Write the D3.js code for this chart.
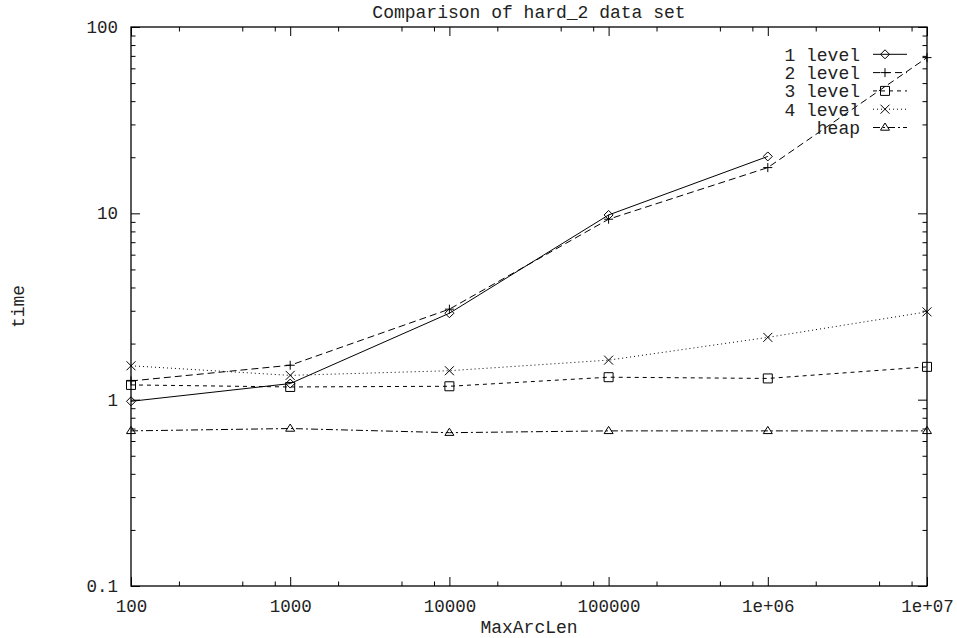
<!DOCTYPE html>
<html>
<head>
<meta charset="utf-8">
<script src="https://cdn.jsdelivr.net/npm/d3@7.9.0/dist/d3.min.js"></script>
<style>
  body { margin: 0; background: #fff; }
  svg text { font-family: "Liberation Mono", "DejaVu Sans Mono", monospace; fill: #222; }
</style>
</head>
<body>
<div id="chart"></div>
<script>
// values
const maxArcLen = [100, 1000, 10000, 100000, 1e6, 1e7];
const level1 = [0.98, 1.22, 2.91, 9.8, 20.2, null];
const level2 = [1.26, 1.53, 3.06, 9.3, 17.6, 68.5];
const level3 = [1.2, 1.17, 1.18, 1.32, 1.30, 1.50];
const level4 = [1.52, 1.35, 1.43, 1.63, 2.16, 2.96];
const heap = [0.68, 0.70, 0.665, 0.68, 0.68, 0.68];

const seriesNames = ["1 level", "2 level", "3 level", "4 level", "heap"];
const xTickLabels = ["100", "1000", "10000", "100000", "1e+06", "1e+07"];
const yTickValues = [0.1, 1, 10, 100];
const yTickLabels = ["0.1", "1", "10", "100"];

const width = 957;
const height = 638;
const margin = {top: 27, right: 30, bottom: 52, left: 131};

const series = [
    {name: seriesNames[0], values: level1, dash: null, marker: "diamond"},
    {name: seriesNames[1], values: level2, dash: "7,4", marker: "plus"},
    {name: seriesNames[2], values: level3, dash: "4,4", marker: "square"},
    {name: seriesNames[3], values: level4, dash: "1,3", marker: "cross"},
    {name: seriesNames[4], values: heap, dash: "7,3,2,3", marker: "triangle"}
];

const x = d3.scaleLog()
    .domain([100, 1e7])
    .range([margin.left, width - margin.right]);

const y = d3.scaleLog()
    .domain([0.1, 100])
    .range([height - margin.bottom, margin.top]);

const svg = d3.select("#chart").append("svg")
    .attr("width", width)
    .attr("height", height);

// minor ticks: x axis at 2,5,8 per decade, y axis at 2..9
const xMinor = [];
for (let d = 100; d < 1e7; d *= 10) [2, 5, 8].forEach(m => xMinor.push(d * m));
const yMinor = [];
for (let d = 0.1; d < 99; d *= 10) [2, 3, 4, 5, 6, 7, 8, 9].forEach(m => yMinor.push(d * m));

const major = 9, minor = 4.5;

function tickAxis(axisFn, scale, values, size, transform, labels, pad) {
    const g = svg.append("g")
        .attr("transform", transform)
        .call(axisFn(scale)
            .tickValues(values)
            .tickSize(-size)
            .tickPadding(pad || 0)
            .tickFormat(labels ? ((d, i) => labels[i]) : () => ""));
    g.select(".domain").remove();
    g.selectAll(".tick line").attr("stroke", "#000").attr("stroke-width", 1);
    return g;
}

const bottom = height - margin.bottom;
const right = width - margin.right;

// bottom & top
tickAxis(d3.axisBottom, x, maxArcLen, major, `translate(0,${bottom})`, xTickLabels, 14)
    .selectAll("text").style("font-size", "17.5px").attr("fill", "#222");
tickAxis(d3.axisBottom, x, xMinor, minor, `translate(0,${bottom})`);
tickAxis(d3.axisTop, x, maxArcLen, major, `translate(0,${margin.top})`);
tickAxis(d3.axisTop, x, xMinor, minor, `translate(0,${margin.top})`);

// left & right
tickAxis(d3.axisLeft, y, yTickValues, major, `translate(${margin.left},0)`, yTickLabels, 13)
    .selectAll("text").style("font-size", "17.5px").attr("fill", "#222");
tickAxis(d3.axisLeft, y, yMinor, minor, `translate(${margin.left},0)`);
tickAxis(d3.axisRight, y, yTickValues, major, `translate(${right},0)`);
tickAxis(d3.axisRight, y, yMinor, minor, `translate(${right},0)`);

svg.selectAll(".tick text").attr("fill", "#222").attr("stroke", "none");

// border
svg.append("rect")
    .attr("x", margin.left)
    .attr("y", margin.top)
    .attr("width", right - margin.left)
    .attr("height", bottom - margin.top)
    .attr("fill", "none")
    .attr("stroke", "#000")
    .attr("stroke-width", 1.3);

function markerPath(type, cx, cy) {
    const s = 4.5;
    const p = d3.path();
    if (type === "diamond") {
        p.moveTo(cx, cy - s); p.lineTo(cx + s, cy); p.lineTo(cx, cy + s); p.lineTo(cx - s, cy); p.closePath();
    } else if (type === "plus") {
        p.moveTo(cx - s, cy); p.lineTo(cx + s, cy); p.moveTo(cx, cy - s); p.lineTo(cx, cy + s);
    } else if (type === "square") {
        p.rect(cx - s, cy - s, 2 * s, 2 * s);
    } else if (type === "cross") {
        p.moveTo(cx - s, cy - s); p.lineTo(cx + s, cy + s); p.moveTo(cx + s, cy - s); p.lineTo(cx - s, cy + s);
    } else if (type === "triangle") {
        p.moveTo(cx, cy - s); p.lineTo(cx + s, cy + s * 0.6); p.lineTo(cx - s, cy + s * 0.6); p.closePath();
    }
    return p.toString();
}

const line = d3.line()
    .defined(d => d.v != null)
    .x(d => x(d.x))
    .y(d => y(d.v));

series.forEach(s => {
    const pts = maxArcLen.map((xv, i) => ({x: xv, v: s.values[i]}));
    svg.append("path")
        .attr("d", line(pts))
        .attr("fill", "none")
        .attr("stroke", "#000")
        .attr("stroke-width", 1)
        .attr("stroke-dasharray", s.dash);
    svg.append("g").selectAll("path")
        .data(pts.filter(d => d.v != null))
        .enter()
        .append("path")
        .attr("d", d => markerPath(s.marker, x(d.x), y(d.v)))
        .attr("fill", "none")
        .attr("stroke", "#000")
        .attr("stroke-width", 1);
});

// legend
const legend = svg.selectAll(".legend")
    .data(series)
    .enter()
    .append("g")
    .attr("transform", (d, i) => `translate(0,${54.3 + i * 18.3})`);

legend.append("text")
    .attr("x", 860)
    .attr("dy", "0.35em")
    .attr("text-anchor", "end")
    .style("font-size", "18px")
    .text(d => d.name);

legend.append("line")
    .attr("x1", 873)
    .attr("x2", 907)
    .attr("stroke", "#000")
    .attr("stroke-width", 1)
    .attr("stroke-dasharray", d => d.dash);

legend.append("path")
    .attr("d", d => markerPath(d.marker, 885, 0))
    .attr("fill", "none")
    .attr("stroke", "#000");

// titles
svg.append("text")
    .attr("x", (margin.left + right) / 2)
    .attr("y", 12)
    .attr("dy", "0.35em")
    .attr("text-anchor", "middle")
    .style("font-size", "18px")
    .text("Comparison of hard_2 data set");

svg.append("text")
    .attr("x", (margin.left + right) / 2)
    .attr("y", 627)
    .attr("dy", "0.35em")
    .attr("text-anchor", "middle")
    .style("font-size", "18px")
    .text("MaxArcLen");

svg.append("text")
    .attr("transform", `translate(18,${(margin.top + bottom) / 2}) rotate(-90)`)
    .attr("dy", "0.35em")
    .attr("text-anchor", "middle")
    .style("font-size", "18px")
    .text("time");
</script>
</body>
</html>
